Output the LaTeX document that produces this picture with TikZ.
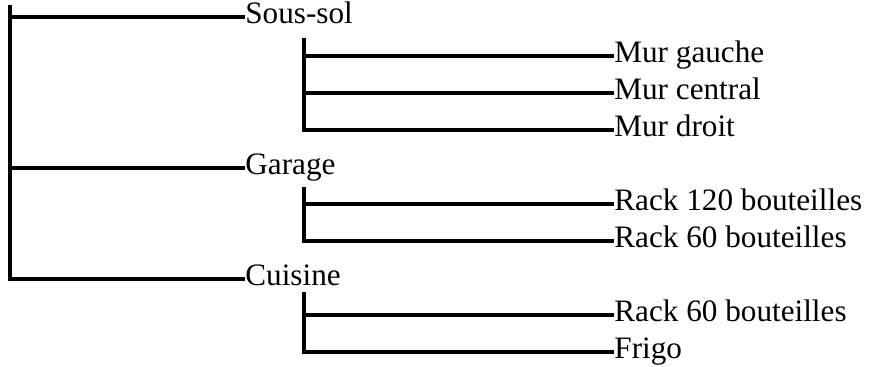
\documentclass[tikz,border=0pt]{standalone}
\usepackage{fontspec}
\setmainfont{Liberation Serif}
\usepackage{tikz}
\usetikzlibrary{positioning}

\begin{document}
\begin{tikzpicture}[
        x=0.5pt, y=-0.5pt,
        every node/.style={font=\fontsize{15.6}{18}\selectfont},
        item/.style={anchor=west, inner sep=0pt, text height=0.64em, text depth=0pt},
        branch/.style={draw=black, line width=1.6pt}
    ]
    \useasboundingbox (0,0) rectangle (873,367);

    % =============== niveau 1 ===============
    \coordinate (root) at (10,5);
    \node[item] (sous)    at (245,17)  {Sous-sol};
    \node[item] (garage)  at (245,168) {Garage};
    \node[item] (cuisine) at (245,279) {Cuisine};

    \draw[branch] (root) |- (sous.west);
    \draw[branch] (root) |- (garage.west);
    \draw[branch] (root) |- (cuisine.west);

    % =============== sous-sol ===============
    \coordinate (sousT) at (304,38);
    \node[item] (murg) at (614,56)  {Mur gauche};
    \node[item] (murc) at (614,93)  {Mur central};
    \node[item] (murd) at (614,130) {Mur droit};
    \draw[branch] (sousT) |- (murg.west);
    \draw[branch] (sousT) |- (murc.west);
    \draw[branch] (sousT) |- (murd.west);

    % =============== garage ===============
    \coordinate (garT) at (304,187);
    \node[item] (rackA) at (614,204) {Rack 120 bouteilles};
    \node[item] (rackB) at (614,241) {Rack 60 bouteilles};
    \draw[branch] (garT) |- (rackA.west);
    \draw[branch] (garT) |- (rackB.west);

    % =============== cuisine ===============
    \coordinate (cuiT) at (304,292);
    \node[item] (rackC) at (614,315) {Rack 60 bouteilles};
    \node[item] (frigo) at (614,352) {Frigo};
    \draw[branch] (cuiT) |- (rackC.west);
    \draw[branch] (cuiT) |- (frigo.west);
\end{tikzpicture}
\end{document}
